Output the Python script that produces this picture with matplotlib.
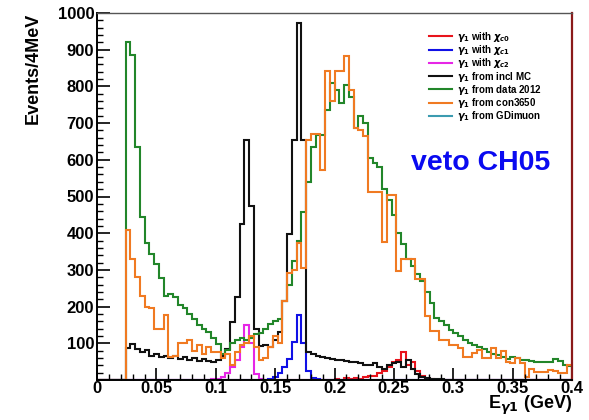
import numpy as np
import matplotlib
matplotlib.use("Agg")
import matplotlib.pyplot as plt
from matplotlib.ticker import MultipleLocator, FuncFormatter

plt.rcParams["font.family"] = ["Liberation Sans", "DejaVu Sans"]
plt.rcParams["font.weight"] = "bold"

# 4 MeV bins from 0 to 0.4 GeV
bin_edges = np.linspace(0.0, 0.4, 101)

chic0 = [0, 0, 0, 0, 0, 0, 0, 0, 0, 0,
         0, 0, 0, 0, 0, 0, 0, 0, 0, 0,
         0, 0, 0, 0, 0, 0, 0, 0, 0, 0,
         0, 0, 0, 0, 0, 0, 0, 0, 0, 0,
         0, 0, 0, 0, 0, 0, 0, 0, 0, 0,
         2, 1, 5, 3, 6, 4, 8, 10, 12, 18,
         25, 35, 50, 55, 75, 40, 50, 25, 10, 4,
         2, 0, 0, 0, 0, 0, 0, 0, 0, 0,
         0, 0, 0, 0, 0, 0, 0, 0, 0, 0,
         0, 0, 0, 0, 0, 0, 0, 0, 0, 0]

chic1 = [0, 0, 0, 0, 0, 0, 0, 0, 0, 0,
         0, 0, 0, 0, 0, 0, 0, 0, 0, 0,
         0, 0, 0, 0, 0, 0, 0, 0, 0, 0,
         0, 0, 0, 0, 0, 0, 3, 8, 20, 35,
         58, 104, 178, 100, 25, 5, 2, 0, 0, 0,
         0, 0, 0, 0, 0, 0, 0, 0, 0, 0,
         0, 0, 0, 0, 0, 0, 0, 0, 0, 0,
         0, 0, 0, 0, 0, 0, 0, 0, 0, 0,
         0, 0, 0, 0, 0, 0, 0, 0, 0, 0,
         0, 0, 0, 0, 0, 0, 0, 0, 0, 0]

chic2 = [0, 0, 0, 0, 0, 0, 0, 0, 0, 0,
         0, 0, 0, 0, 0, 0, 0, 0, 0, 0,
         0, 0, 0, 0, 2, 4, 8, 20, 35, 55,
         90, 150, 100, 15, 3, 1, 0, 0, 0, 0,
         0, 0, 0, 0, 0, 0, 0, 0, 0, 0,
         0, 0, 0, 0, 0, 0, 0, 0, 0, 0,
         0, 0, 0, 0, 0, 0, 0, 0, 0, 0,
         0, 0, 0, 0, 0, 0, 0, 0, 0, 0,
         0, 0, 0, 0, 0, 0, 0, 0, 0, 0,
         0, 0, 0, 0, 0, 0, 0, 0, 0, 0]

incl_mc = [0, 0, 0, 0, 0, 0, 88, 98, 85, 75,
           82, 66, 70, 62, 65, 60, 66, 58, 62, 55,
           60, 52, 58, 52, 48, 55, 65, 85, 157, 225,
           425, 653, 475, 140, 93, 95, 90, 110, 130, 215,
           397, 653, 973, 653, 75, 70, 65, 62, 60, 58,
           55, 55, 52, 48, 50, 45, 42, 40, 45, 35,
           30, 40, 45, 50, 35, 55, 30, 15, 8, 5,
           3, 2, 2, 1, 1, 1, 0, 0, 0, 0,
           0, 0, 0, 0, 0, 0, 0, 0, 0, 0,
           0, 0, 0, 0, 0, 0, 0, 0, 0, 0]

data2012 = [0, 0, 0, 0, 0, 0, 922, 886, 635, 443,
            374, 344, 317, 279, 230, 233, 225, 205, 195, 180,
            165, 150, 140, 130, 115, 98, 72, 83, 100, 110,
            115, 110, 115, 125, 128, 140, 153, 160, 165, 215,
            260, 324, 379, 457, 539, 636, 668, 668, 737, 810,
            790, 755, 805, 770, 686, 718, 700, 605, 590, 580,
            520, 490, 450, 400, 370, 330, 310, 290, 270, 240,
            210, 170, 160, 150, 135, 128, 120, 110, 100, 95,
            90, 85, 75, 72, 68, 62, 58, 64, 60, 55,
            55, 52, 50, 48, 50, 48, 58, 52, 40, 37]

con3650 = [0, 0, 0, 0, 0, 0, 410, 330, 280, 228,
           198, 196, 140, 138, 178, 62, 65, 100, 100, 110,
           80, 95, 70, 90, 75, 75, 60, 70, 40, 75,
           95, 100, 120, 90, 55, 60, 90, 120, 100, 215,
           292, 300, 374, 305, 655, 670, 670, 572, 842, 760,
           842, 842, 883, 790, 686, 682, 664, 513, 513, 513,
           375, 505, 505, 297, 330, 330, 330, 274, 274, 174,
           133, 133, 110, 110, 96, 96, 87, 64, 64, 73,
           82, 59, 59, 87, 59, 78, 50, 46, 59, 45,
           9, 31, 23, 23, 23, 28, 25, 18, 20, 40]

gdimuon = [0] * 100

series = [
    (chic0, "#e8141c", r"$\gamma_1$ with $\chi_{c0}$"),
    (chic1, "#1010e6", r"$\gamma_1$ with $\chi_{c1}$"),
    (chic2, "#e626e6", r"$\gamma_1$ with $\chi_{c2}$"),
    (incl_mc, "#111111", r"$\gamma_1$ from incl MC"),
    (data2012, "#22862a", r"$\gamma_1$ from data 2012"),
    (con3650, "#f07a22", r"$\gamma_1$ from con3650"),
    (gdimuon, "#3c9bb0", r"$\gamma_1$ from GDimuon"),
]

fig = plt.figure(figsize=(5.89, 4.20), dpi=100)
ax = fig.add_axes([97 / 589, 1 - 380 / 420, (572 - 97) / 589, (380 - 13) / 420])

handles = []
for vals, col, lab in series:
    h = ax.stairs(vals, bin_edges, color=col, lw=1.5, label=lab)
    handles.append(h)

ax.set_xlim(0, 0.4)
ax.set_ylim(0, 1000)

ax.xaxis.set_major_locator(MultipleLocator(0.05))
ax.xaxis.set_minor_locator(MultipleLocator(0.01))
ax.yaxis.set_major_locator(MultipleLocator(100))
ax.yaxis.set_minor_locator(MultipleLocator(20))
ax.xaxis.set_major_formatter(FuncFormatter(lambda v, p: "%g" % round(v, 3)))
ax.yaxis.set_major_formatter(FuncFormatter(lambda v, p: "" if v == 0 else "%d" % v))

ax.tick_params(which="both", direction="in", top=False, right=False)
ax.tick_params(which="major", length=9, width=1.2, labelsize=12)
ax.tick_params(axis="y", which="major", pad=2)
ax.tick_params(axis="x", which="major", pad=1)
ax.tick_params(which="minor", length=4.5, width=1)

for s in ["left", "bottom"]:
    ax.spines[s].set_linewidth(1.4)
ax.spines["top"].set_color("#555555")
ax.spines["top"].set_linewidth(1.0)
ax.spines["right"].set_color("#8b1a1a")
ax.spines["right"].set_linewidth(1.6)

fig.text(33 / 589, 1 - 13 / 420, "Events/4MeV", rotation=90, ha="center", va="top",
         fontsize=13, fontweight="bold")
fig.text(572 / 589, 1 - 409 / 420, r"E$_{\gamma 1}$ (GeV)", ha="right", va="baseline",
         fontsize=13, fontweight="bold")
fig.text(411 / 589, 1 - 170 / 420, "veto CH05", color="#0a0af0", fontsize=20.5,
         fontweight="bold", ha="left", va="baseline")

ax.legend(handles=handles, loc="upper left", bbox_to_anchor=(424 / 589, 1 - 25 / 420),
          bbox_transform=fig.transFigure, frameon=False, fontsize=7,
          handlelength=2.4, labelspacing=-0.08, handletextpad=0.5, borderpad=0)

fig.savefig("out.png", dpi=100)
